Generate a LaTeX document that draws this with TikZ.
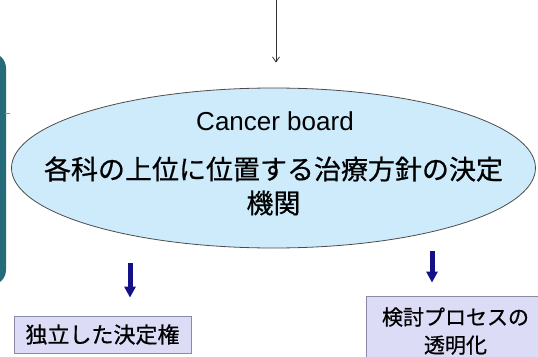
\documentclass[tikz,border=0pt]{standalone}
\usepackage{fontspec}
\setmainfont{Liberation Sans}
\newfontfamily\jpfont[FakeBold=0.6]{Noto Sans CJK JP}
\usetikzlibrary{shapes.geometric,arrows.meta}

\definecolor{boardblue}{HTML}{CDEBFA}
\definecolor{boxlilac}{HTML}{DCDCF6}
\definecolor{boxedge}{HTML}{8A8AA8}
\definecolor{arrownavy}{HTML}{121286}
\definecolor{sidebar}{HTML}{266B7A}
\definecolor{tickred}{HTML}{E07060}

\tikzset{
  board/.style = {ellipse, draw = black!70, line width = 0.8pt, fill = boardblue,
    minimum width = 524pt, minimum height = 160pt, inner sep = 0pt},
  result/.style = {draw = boxedge, line width = 0.8pt, fill = boxlilac, inner sep = 0pt},
  bigdown/.style = {arrownavy, line width = 5pt, -{Triangle[length = 11pt, width = 11pt]}},
  feedline/.style = {black!80, line width = 0.8pt, -{Straight Barb[length = 5pt, width = 7pt]}}
}

\begin{document}
\begin{tikzpicture}[x = 1pt, y = -1pt]
      \useasboundingbox (0, 0) rectangle (538, 356);

      % side bar and tick on the left edge
      \fill [sidebar, rounded corners = 15pt] (-30, 53) rectangle (6, 285);
      \draw [tickred, line width = 0.6pt] (5, 113) -- (10, 113);

      \node [board] (board) at (273.5, 168) {};
      \node [font = \fontsize{26}{30}\selectfont] (title) at (275, 121) {Cancer board};
      \node [font = \jpfont\fontsize{27}{32}\selectfont] (role) at (273.5, 169) {各科の上位に位置する治療方針の決定};
      \node [font = \jpfont\fontsize{27}{32}\selectfont] (roleb) at (273.5, 203) {機関};

      \node [result, minimum width = 177pt, minimum height = 37pt, font = \jpfont\fontsize{22}{26}\selectfont]
            (lbox) at (102.5, 334.5) {独立した決定権};
      \node [result, minimum width = 179pt, minimum height = 70pt, align = center,
             font = \jpfont\fontsize{21}{28}\selectfont] (rbox) at (455.5, 331) {検討プロセスの\\ 透明化};

      % arrows
      \coordinate (feed) at (276, 0);
      \draw [feedline, shorten > = 25pt] (feed) -- (board.north -| feed);

      \coordinate (ltop) at (130, 263);
      \draw [bigdown, shorten > = 18pt] (ltop) -- (ltop |- lbox.north);
      \coordinate (rtop) at (432, 251);
      \draw [bigdown, shorten > = 13pt] (rtop) -- (rtop |- rbox.north);
\end{tikzpicture}
\end{document}
